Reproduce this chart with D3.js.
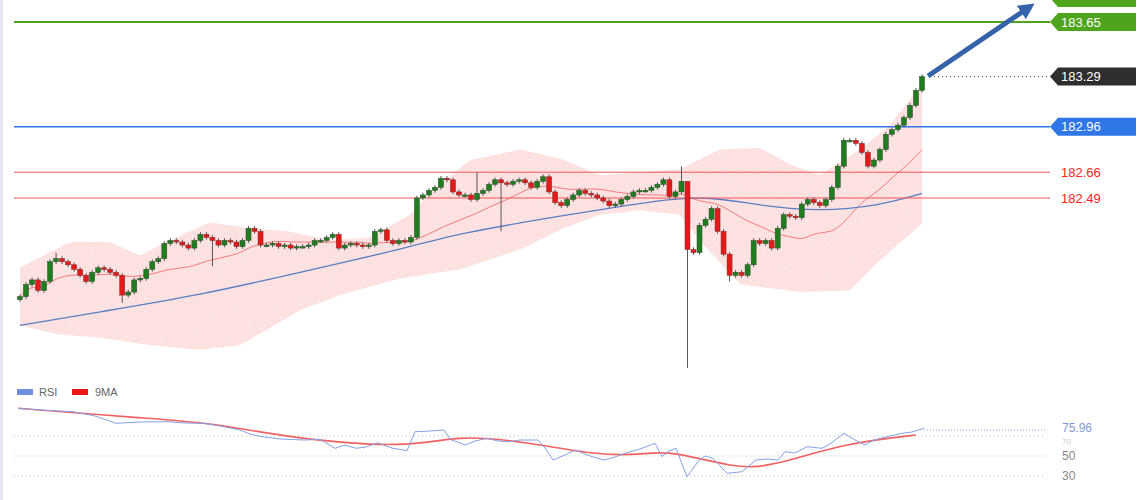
<!DOCTYPE html>
<html><head><meta charset="utf-8">
<script src="https://cdn.jsdelivr.net/npm/d3@7/dist/d3.min.js"></script>
<style>body{margin:0;background:#fff}svg{display:block;font-family:"Liberation Sans",Arial,sans-serif}</style>
</head><body><svg id="c" width="1140" height="500"></svg>
<script>
const closes = [181.84,181.92,181.95,181.88,181.94,182.07,182.09,182.07,182.05,182.02,
181.98,181.94,182.00,182.03,182.02,182.00,181.98,181.85,181.87,181.95,
181.96,182.02,182.07,182.09,182.19,182.21,182.20,182.18,182.16,182.21,
182.25,182.23,182.21,182.18,182.21,182.20,182.17,182.21,182.29,182.27,
182.18,182.18,182.19,182.17,182.18,182.16,182.17,182.17,182.18,182.21,
182.21,182.23,182.25,182.16,182.18,182.19,182.18,182.17,182.18,182.27,
182.28,182.21,182.19,182.21,182.20,182.23,182.49,182.51,182.54,182.56,
182.62,182.61,182.53,182.51,182.51,182.48,182.52,182.54,182.58,182.61,
182.59,182.58,182.60,182.61,182.59,182.56,182.60,182.63,182.53,182.46,
182.44,182.48,182.51,182.54,182.52,182.51,182.49,182.47,182.44,182.45,
182.48,182.50,182.53,182.54,182.54,182.56,182.58,182.61,182.50,182.53,
182.60,182.15,182.13,182.31,182.35,182.42,182.27,182.12,181.98,182.00,
181.98,182.05,182.21,182.19,182.21,182.16,182.29,182.38,182.37,182.36,
182.45,182.48,182.46,182.44,182.48,182.56,182.70,182.87,182.87,182.85,
182.79,182.70,182.74,182.81,182.91,182.94,182.97,183.02,183.10,183.20,183.29];
const firstOpen = 181.82;
const longWicks = {17:[null,181.80],32:[null,182.04],76:[182.66,null],80:[null,182.27],110:[182.70,null],111:[182.44,181.37],118:[null,181.94],6:[182.13,null]};
const blueMA = [[20,181.65],[100,181.74],[200,181.85],[300,182.00],[400,182.15],[460,182.26],[560,182.37],[660,182.48],[710,182.50],[760,182.44],[820,182.40],[880,182.44],[922,182.52]];
const bandUpper = [[20,182.03],[70,182.20],[110,182.20],[140,182.11],[170,182.21],[210,182.33],[250,182.29],[290,182.27],[330,182.21],[370,182.23],[410,182.38],[440,182.58],[470,182.74],[520,182.81],[560,182.75],[600,182.64],[640,182.66],[680,182.68],[720,182.81],[760,182.82],[790,182.71],[820,182.64],[860,182.81],[890,182.97],[922,183.24]];
const bandLower = [[20,181.65],[60,181.59],[100,181.57],[150,181.52],[200,181.49],[240,181.52],[300,181.75],[340,181.85],[400,181.96],[460,182.02],[520,182.15],[560,182.28],[600,182.38],[640,182.41],[680,182.38],[700,182.21],[740,181.92],[800,181.87],[850,181.88],[880,182.08],[922,182.32]];
const rsi = [[18,97.7],[40,96],[73,94.3],[95,90],[116,82.7],[140,84],[167,84.3],[185,83],[204,82.7],[220,80],[240,76],[250,72],[262,69.3],[280,67],[305,66],[320,66.7],[328,62],[335,57.7],[345,61],[356,57.7],[366,59],[378,63.3],[386,60],[393,57.7],[407,55.3],[415,74.3],[430,75],[444,76],[451,66],[458,64],[465,61],[475,65],[487,67.7],[498,65],[509,64.3],[520,66],[538,66],[545,58],[553,46],[565,51],[575,56],[590,50],[604,46],[615,49],[625,52.7],[640,57],[655,62.7],[662,49.3],[669,55],[676,57.7],[687,29.3],[698,44.3],[705,50],[713,47.7],[727,32.7],[742,34.3],[756,46],[768,47],[778,46],[785,54.3],[795,53],[807,59.3],[822,57.7],[830,62],[844,72.7],[855,66],[865,61],[872,65],[880,67.7],[890,70],[902,72.7],[912,74],[924,77.7]];
const rsiMA = [[18,97.7],[145,87.7],[211,83.3],[291,67.7],[407,57.7],[458,71],[524,64.3],[596,51],[640,51],[669,56],[735,37.7],[771,39.3],[844,62.7],[916,71]];
const levels = [{v:183.65,c:"#4ea51c",w:2,tag:"#4ea51c",txt:"#fff"},{v:182.96,c:"#2f76e8",w:1.5,tag:"#2f76e8",txt:"#fff"},{v:182.66,c:"#f25555",w:1,tag:null,txt:"#f22"},{v:182.49,c:"#f25555",w:1,tag:null,txt:"#f22"}];
const lastPrice = 183.29;
const rsiTicks = [70,50,30];

const svg = d3.select("#c");
const y = d3.scaleLinear().domain([182.49,183.65]).range([198,22]);
const x = d3.scaleLinear().domain([0,150]).range([20,922]);
const yr = d3.scaleLinear().domain([30,50]).range([476,456]);

const defs = svg.append("defs");
const pat = defs.append("pattern").attr("id","dots").attr("width",6).attr("height",6).attr("patternUnits","userSpaceOnUse").attr("patternTransform","rotate(-30)");
pat.append("rect").attr("width",6).attr("height",6).attr("fill","#fde0e0");
pat.append("rect").attr("x",0).attr("y",0).attr("width",1).attr("height",1).attr("fill","#fff");
defs.append("marker").attr("id","ah").attr("viewBox","0 0 10 10").attr("refX",5).attr("refY",5).attr("markerWidth",3.2).attr("markerHeight",3.2).attr("orient","auto")
 .append("path").attr("d","M0,0L10,5L0,10z").attr("fill","#3563a9");

svg.append("rect").attr("x",0).attr("y",0).attr("width",3).attr("height",500).attr("fill","#e4e9f4");

const area = d3.area().x(d=>d[0]).y0(d=>y(d[1])).y1(d=>y(d[2])).curve(d3.curveBasis);
const lo = d3.scaleLinear().domain(bandLower.map(d=>d[0])).range(bandLower.map(d=>d[1]));
const up = d3.scaleLinear().domain(bandUpper.map(d=>d[0])).range(bandUpper.map(d=>d[1]));
const bx = d3.range(20,923,4).concat([922]);
svg.append("path").datum(bx.map(px=>[px,lo(px),up(px)])).attr("d",area).attr("fill","url(#dots)");

const sma = closes.map((c,i)=>{const s=closes.slice(Math.max(0,i-19),i+1);return [x(i),d3.mean(s)];});
svg.append("path").datum(sma).attr("d",d3.line().x(d=>d[0]).y(d=>y(d[1])).curve(d3.curveBasis)).attr("fill","none").attr("stroke","#f47a7a").attr("stroke-width",1);
svg.append("path").datum(blueMA).attr("d",d3.line().x(d=>d[0]).y(d=>y(d[1])).curve(d3.curveBasis)).attr("fill","none").attr("stroke","#5b7fc4").attr("stroke-width",1.3);

levels.forEach(l=>{
  svg.append("line").attr("x1",14).attr("x2",1050).attr("y1",y(l.v)).attr("y2",y(l.v)).attr("stroke",l.c).attr("stroke-width",l.w);
  const yy=y(l.v);
  if(l.tag){svg.append("path").attr("d",`M1050,${yy}L1058,${yy-9}H1136V${yy+9}H1058Z`).attr("fill",l.tag);}
  svg.append("text").attr("x",1061).attr("y",yy+4.5).attr("fill",l.txt).attr("font-size",13).text(l.v.toFixed(2));
});
svg.append("path").attr("d","M1050,-2L1058,-11H1136V7H1058Z").attr("fill","#4ea51c");
svg.append("line").attr("x1",930).attr("x2",1050).attr("y1",y(lastPrice)).attr("y2",y(lastPrice)).attr("stroke","#333").attr("stroke-dasharray","1,3");
svg.append("path").attr("d",`M1050,${y(lastPrice)}L1058,${y(lastPrice)-9}H1136V${y(lastPrice)+9}H1058Z`).attr("fill","#2e2e2e");
svg.append("text").attr("x",1061).attr("y",y(lastPrice)+4.5).attr("fill","#fff").attr("font-size",13).text(lastPrice.toFixed(2));

const g=svg.append("g");
closes.forEach((c,i)=>{
  const o = i===0?firstOpen:closes[i-1];
  const w = longWicks[i]||[null,null];
  const hi = w[0]!=null?w[0]:Math.max(o,c)+0.015, low = w[1]!=null?w[1]:Math.min(o,c)-0.015;
  const upc=c>=o, cx=x(i);
  g.append("line").attr("x1",cx).attr("x2",cx).attr("y1",y(hi)).attr("y2",y(low)).attr("stroke","#555").attr("stroke-width",1);
  const t=y(Math.max(o,c)), b=y(Math.min(o,c));
  g.append("rect").attr("x",cx-2.5).attr("y",t).attr("width",5).attr("height",Math.max(1.5,b-t)).attr("fill",upc?"#1f7d1f":"#e41a1a").attr("stroke",upc?"#2a4a2a":"#7a2a2a").attr("stroke-width",0.5);
});

svg.append("line").attr("x1",928).attr("y1",76).attr("x2",1028).attr("y2",8).attr("stroke","#3563a9").attr("stroke-width",5).attr("marker-end","url(#ah)");

svg.append("rect").attr("x",17).attr("y",389).attr("width",16).attr("height",6).attr("fill","#6f8fe0");
svg.append("text").attr("x",39).attr("y",396).attr("font-size",11).attr("fill","#666").text("RSI");
svg.append("rect").attr("x",72).attr("y",389).attr("width",16).attr("height",6).attr("fill","#e81515");
svg.append("text").attr("x",95).attr("y",396).attr("font-size",11).attr("fill","#666").text("9MA");
rsiTicks.forEach(t=>{
  svg.append("line").attr("x1",14).attr("x2",1045).attr("y1",yr(t)).attr("y2",yr(t)).attr("stroke","#bbb").attr("stroke-dasharray","1,3");
  if(t!==70) svg.append("text").attr("x",1062).attr("y",yr(t)+4).attr("font-size",12).attr("fill","#888").text(t);
  else svg.append("text").attr("x",1062).attr("y",yr(t)+8).attr("font-size",8).attr("fill","#ccc").text(t);
});
const rl=d3.line().x(d=>d[0]).y(d=>yr(d[1]));
svg.append("path").datum(rsiMA).attr("d",d3.line().x(d=>d[0]).y(d=>yr(d[1])).curve(d3.curveBasis)).attr("fill","none").attr("stroke","#f04545").attr("stroke-width",1.6).attr("opacity",0.85);
svg.append("path").datum(rsi).attr("d",rl).attr("fill","none").attr("stroke","#86a2e6").attr("stroke-width",1);
const lastR=75.96;
svg.append("line").attr("x1",924).attr("x2",1045).attr("y1",yr(lastR)).attr("y2",yr(lastR)).attr("stroke","#86a2e6").attr("stroke-dasharray","1,2");
svg.append("text").attr("x",1062).attr("y",yr(lastR)+2).attr("font-size",12).attr("fill","#7f9ad8").text(lastR.toFixed(2));
</script></body></html>
